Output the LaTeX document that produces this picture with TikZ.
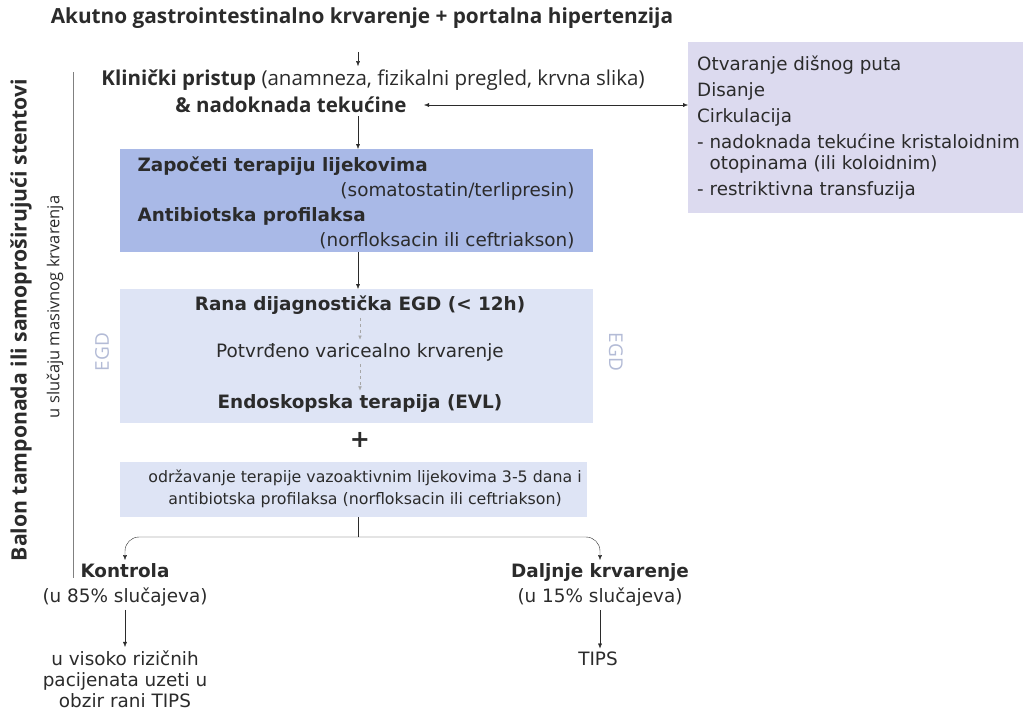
\documentclass[tikz,border=0pt]{standalone}
\usepackage{fontspec}
\setmainfont{DejaVu Sans}
\newfontfamily\humfont{Open Sans}
\usetikzlibrary{arrows.meta}

\definecolor{boxdark}{HTML}{A9B9E7}
\definecolor{boxlight}{HTML}{DEE4F5}
\definecolor{boxlila}{HTML}{DCDAEF}
\definecolor{egdgray}{HTML}{B3BBD6}
\definecolor{txt}{HTML}{2B2B2B}

\tikzset{
  bigtxt/.style={font=\fontsize{18.4}{25}\selectfont},
  smalltxt/.style={font=\fontsize{15.8}{22}\selectfont},
  humtxt/.style={font=\humfont\fontsize{20.5}{22}\selectfont},
  arr/.style={draw=txt, -{Latex[length=5pt,width=4pt]}},
  dasharr/.style={draw=gray!70, dashed, -{Latex[length=4pt,width=3.5pt]}},
  boxnode/.style={anchor=north west, inner sep=0pt}
}

\begin{document}
\begin{tikzpicture}[x=1pt,y=-1pt]
\useasboundingbox (0,0) rectangle (1023,710);

% boxes
\node[boxnode, fill=boxdark, minimum width=473, minimum height=103] (b1) at (120,149) {};
\node[boxnode, fill=boxlight, minimum width=473, minimum height=134] (b2) at (120,289) {};
\node[boxnode, fill=boxlight, minimum width=467, minimum height=55] (b3) at (120,462) {};
\node[boxnode, fill=boxlila, minimum width=345, minimum height=171] (r) at (688,42) {};

\coordinate (a) at (358,0);
\coordinate (s) at (358,537);

\begin{scope}[every node/.style={text=txt}]
  \node[humtxt, font=\humfont\fontsize{20.8}{22}\selectfont\bfseries] (1) at (362,18) {Akutno gastrointestinalno krvarenje + portalna hipertenzija};
  \node[humtxt] (2) at (373,80) {\textbf{Klinički pristup} (anamneza, fizikalni pregled, krvna slika)};
  \node[humtxt, font=\humfont\fontsize{20.5}{22}\selectfont\bfseries] (3) at (291,105) {\& nadoknada tekućine};

  \node[bigtxt, anchor=west] (4) at (134,166) {\bfseries Započeti terapiju lijekovima};
  \node[bigtxt, anchor=east] (5) at (578,191) {(somatostatin/terlipresin)};
  \node[bigtxt, anchor=west] (6) at (134,216) {\bfseries Antibiotska profilaksa};
  \node[bigtxt, anchor=east] (7) at (578,241) {(norfloksacin ili ceftriakson)};

  \node[bigtxt] (8) at (360,305) {\bfseries Rana dijagnostička EGD (< 12h)};
  \node[bigtxt] (9) at (360,352) {Potvrđeno varicealno krvarenje};
  \node[bigtxt] (10) at (360,403) {\bfseries Endoskopska terapija (EVL)};
  \node[font=\fontsize{24}{24}\selectfont\bfseries] (11) at (360,440) {+};

  \node[smalltxt, align=center] (12) at (365,489) {održavanje terapije vazoaktivnim lijekovima 3-5 dana i\\ antibiotska profilaksa (norfloksacin ili ceftriakson)};

  \node[bigtxt, align=center] (13) at (125,585) {\textbf{Kontrola}\\(u 85\% slučajeva)};
  \node[bigtxt, align=center] (14) at (600,585) {\textbf{Daljnje krvarenje}\\(u 15\% slučajeva)};
  \node[bigtxt, font=\fontsize{18.4}{21}\selectfont, align=center] (15) at (125,679) {u visoko rizičnih\\pacijenata uzeti u\\obzir rani TIPS};
  \node[bigtxt] (16) at (598,659) {TIPS};

  \node[anchor=north west, align=left, inner sep=0pt, font=\fontsize{18.3}{26}\selectfont] (17) at (697,56) {Otvaranje dišnog puta\\Disanje\\Cirkulacija\\- nadoknada tekućine kristaloidnim\\[-5pt]\hphantom{- }otopinama (ili koloidnim)\\- restriktivna transfuzija};

  \node[humtxt, font=\humfont\fontsize{21.2}{22}\selectfont\bfseries, rotate=90] (18) at (21,320) {Balon tamponada ili samoproširujući stentovi};
  \node[humtxt, font=\humfont\fontsize{16.5}{22}\selectfont, rotate=90] (19) at (55,307) {u slučaju masivnog krvarenja};
  \node[humtxt, font=\humfont\fontsize{19}{22}\selectfont, rotate=90, text=egdgray] (20) at (102,352) {EGD};
  \node[humtxt, font=\humfont\fontsize{19}{22}\selectfont, rotate=-90, text=egdgray] (21) at (616,352) {EGD};
\end{scope}

% connectors
\draw[arr] ([yshift=-20pt]1.south -| a) -- (2.north -| a);
\draw[arr] (3.south -| a) -- (b1.north -| a);
\draw[arr] (b1.south -| a) -- (b2.north -| a);
\draw[draw=txt, {Latex[length=5pt,width=4pt]}-{Latex[length=5pt,width=4pt]}] ([xshift=14pt]3.east) -- (3.east -| r.west);
\draw[dasharr] (8) -- (9);
\draw[dasharr] (9) -- (10);
\draw[draw=txt] (b3.south -| s) -- (s);
\draw[arr, rounded corners=14pt] (s) -| (13.north);
\draw[arr, rounded corners=14pt] (s) -| (14.north);
\draw[arr] (13.south) -- (13.south |- 15.north);
\draw[arr] (14.south) -- (14.south |- 16.north);

% side line
\draw[draw=gray] (73,72) -- (73,578);

\end{tikzpicture}
\end{document}
